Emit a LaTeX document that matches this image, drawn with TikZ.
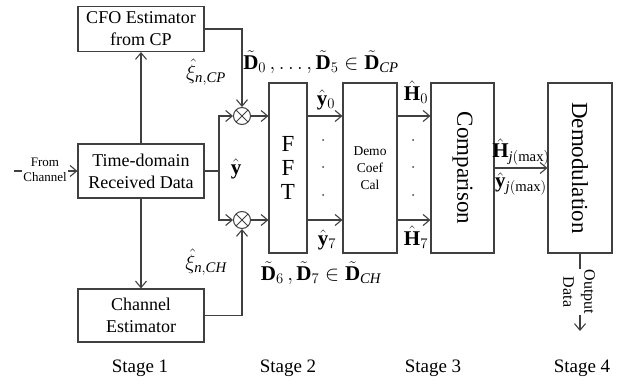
\RequirePackage{fix-cm}
\documentclass[tikz,border=0pt]{standalone}
\usepackage{fontspec}
\setmainfont{Liberation Serif}
\usetikzlibrary{arrows.meta,calc}
\begin{document}
\begin{tikzpicture}[x=1pt,y=-1pt,
  line/.style={draw=black!75, line width=1.1pt},
  arr/.style={line, -{Straight Barb[length=6.5pt,width=11pt]}},
  box/.style={draw=black!75, line width=1.1pt, rectangle, inner sep=0pt, align=center, font=\fontsize{18}{22}\selectfont},
  mult/.style={circle, draw=black!75, line width=1pt, minimum size=17pt, inner sep=0pt,
    path picture={\draw[black!75,line width=1pt] (path picture bounding box.north west) -- (path picture bounding box.south east) (path picture bounding box.north east) -- (path picture bounding box.south west);}},
  lbl/.style={inner sep=0pt, font=\fontsize{21}{24}\selectfont},
  rot/.style={rotate=-90, inner sep=0pt, font=\fontsize{23}{25}\selectfont},
  stage/.style={inner sep=0pt, font=\fontsize{19}{22}\selectfont},
  dotn/.style={circle, fill=black!75, inner sep=0pt, minimum size=2pt}]
\useasboundingbox (0,0) rectangle (624,385);

% boxes
\node[box, minimum width=126pt, minimum height=45pt] (cfo) at (141,29) {CFO Estimator\\from CP};
\node[box, minimum width=126pt, minimum height=54pt] (td) at (141,171) {Time-domain\\Received Data};
\node[box, minimum width=126pt, minimum height=53pt] (ce) at (141,315.5) {Channel\\Estimator};
\node[box, minimum width=38pt, minimum height=170pt, font=\fontsize{23}{24}\selectfont] (fft) at (288,168) {F\\F\\T};
\node[box, minimum width=54pt, minimum height=170pt, font=\fontsize{13.5}{17}\selectfont] (demo) at (370,168) {Demo\\Coef\\Cal};
\node[box, minimum width=63pt, minimum height=170pt] (cmp) at (462.5,168) {};
\node[rot] (cmpt) at (cmp) {Comparison};
\node[box, minimum width=64pt, minimum height=170pt] (dem) at (580,168) {};
\node[rot] (demt) at (dem) {Demodulation};

% multipliers
\node[mult] (m1) at (242,116) {};
\node[mult] (m2) at (242,220) {};

% connectors
\coordinate (sp) at (219,171);
\draw[line] (td.east) -- (sp);
\draw[arr] (sp) |- (m1.west);
\draw[arr] (sp) |- (m2.west);
\draw[arr] (td.north) -- (cfo.south);
\draw[arr] (td.south) -- (ce.north);
\draw[arr] (cfo.east) -| (m1.north);
\draw[arr] (ce.east) -| (m2.south);
\draw[arr] (m1.east) -- (m1.east -| fft.west);
\draw[arr] (m2.east) -- (m2.east -| fft.west);
\draw[arr] (fft.east |- m1) -- (demo.west |- m1);
\draw[arr] (fft.east |- m2) -- (demo.west |- m2);
\draw[arr] (demo.east |- m1) -- (cmp.west |- m1);
\draw[arr] (demo.east |- m2) -- (cmp.west |- m2);
\draw[arr] (cmp.east) -- (dem.west);

% input
\coordinate (in) at (14,171);
\draw[arr] (in) -- (td.west);
\node[fill=white, inner sep=1pt, align=center, font=\fontsize{13}{15}\selectfont] (from) at (45,170) {From\\Channel};

% output
\coordinate (out) at (580,331);
\draw[arr] (dem.south) -- (out);
\node[fill=white, rotate=-90, align=center, inner sep=1pt, font=\fontsize{16}{21}\selectfont] (outt) at (579,292) {Output\\Data};

% labels
\node[lbl] (xicp) at (206,72) {$\hat{\xi}_{\mathit{n},\mathit{CP}}$};
\node[lbl] (xich) at (206,262) {$\hat{\xi}_{\mathit{n},\mathit{CH}}$};
\node[lbl] (yh) at (236,169) {$\hat{\mathbf{y}}$};
\node[lbl] (dcp) at (321,62) {$\tilde{\mathbf{D}}_0\,,\ldots,\tilde{\mathbf{D}}_5\in\tilde{\mathbf{D}}_{\mathit{CP}}$};
\node[lbl] (dch) at (321,273) {$\tilde{\mathbf{D}}_6\,,\tilde{\mathbf{D}}_7\in\tilde{\mathbf{D}}_{\mathit{CH}}$};
\node[lbl] (y0) at (326,100) {$\hat{\mathbf{y}}_0$};
\node[lbl] (y7) at (327,240) {$\hat{\mathbf{y}}_7$};
\node[lbl] (h0) at (416,92) {$\hat{\mathbf{H}}_0$};
\node[lbl] (h7) at (416,237) {$\hat{\mathbf{H}}_7$};
\node[lbl] (hj) at (521,152) {$\hat{\mathbf{H}}_{\mathit{j}(\mathrm{max})}$};
\node[lbl] (yj) at (521,184) {$\hat{\mathbf{y}}_{\mathit{j}(\mathrm{max})}$};

% dots
\node[dotn] (a1) at (323,140) {};
\node[dotn] (a2) at (323,167) {};
\node[dotn] (a3) at (323,195) {};
\node[dotn] (b1) at (413,140) {};
\node[dotn] (b2) at (413,167) {};
\node[dotn] (b3) at (413,195) {};

% stages
\node[stage] (s1) at (140,368) {Stage 1};
\node[stage] (s2) at (288,368) {Stage 2};
\node[stage] (s3) at (433,368) {Stage 3};
\node[stage] (s4) at (582,368) {Stage 4};
\end{tikzpicture}
\end{document}
